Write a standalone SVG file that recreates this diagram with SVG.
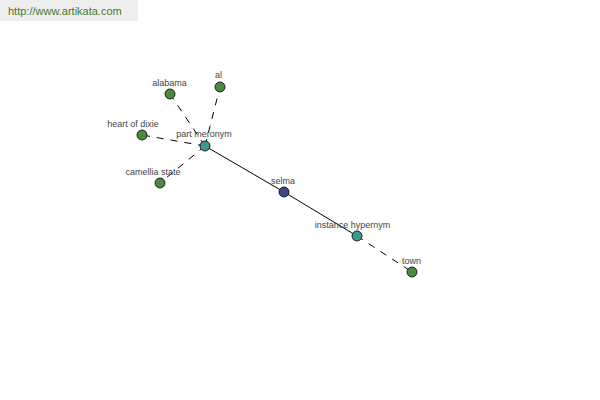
<svg xmlns="http://www.w3.org/2000/svg" width="600" height="400" viewBox="0 0 600 400">
<style>
.lbl{font-family:"Liberation Sans",Arial,sans-serif;font-size:9px;fill:#444;text-anchor:middle}
.e{stroke:#000;stroke-width:1;fill:none}
.d{stroke-dasharray:7,7}
.n{stroke:#000;stroke-width:0.8}
.g{fill:#4a8a3c}.t{fill:#3a9a90}.b{fill:#3a4890}
</style>
<rect width="600" height="400" fill="#fff"/>
<rect x="0" y="0" width="138" height="21" fill="#eeeeee"/>
<text x="8" y="15" font-family="'Liberation Sans',Arial,sans-serif" font-size="11" fill="#3f7a2c">http://www.artikata.com</text>
<g id="edges">
<line class="e d" x1="205" y1="146" x2="170" y2="94"/>
<line class="e d" x1="205" y1="146" x2="220" y2="87"/>
<line class="e d" x1="205" y1="146" x2="142" y2="135"/>
<line class="e d" x1="205" y1="146" x2="160" y2="183"/>
<line class="e" x1="205" y1="146" x2="284" y2="192"/>
<line class="e" x1="284" y1="192" x2="357" y2="236"/>
<line class="e d" x1="357" y1="236" x2="412" y2="272"/>
</g>
<g id="alabama"><circle class="n g" cx="170" cy="94" r="5"/><text class="lbl" x="169.5" y="86">alabama</text></g>
<g id="al"><circle class="n g" cx="220" cy="87" r="5"/><text class="lbl" x="218.5" y="78">al</text></g>
<g id="heart_of_dixie"><circle class="n g" cx="142" cy="135" r="5"/><text class="lbl" x="133" y="127">heart of dixie</text></g>
<g id="camellia_state"><circle class="n g" cx="160" cy="183" r="5"/><text class="lbl" x="153" y="175">camellia state</text></g>
<g id="part_meronym"><circle class="n t" cx="205" cy="146" r="5"/><text class="lbl" x="204" y="137">part meronym</text></g>
<g id="selma"><circle class="n b" cx="284" cy="192" r="5"/><text class="lbl" x="283" y="184">selma</text></g>
<g id="instance_hypernym"><circle class="n t" cx="357" cy="236" r="5"/><text class="lbl" x="352.5" y="228">instance hypernym</text></g>
<g id="town"><circle class="n g" cx="412" cy="272" r="5"/><text class="lbl" x="411.5" y="264">town</text></g>
</svg>
